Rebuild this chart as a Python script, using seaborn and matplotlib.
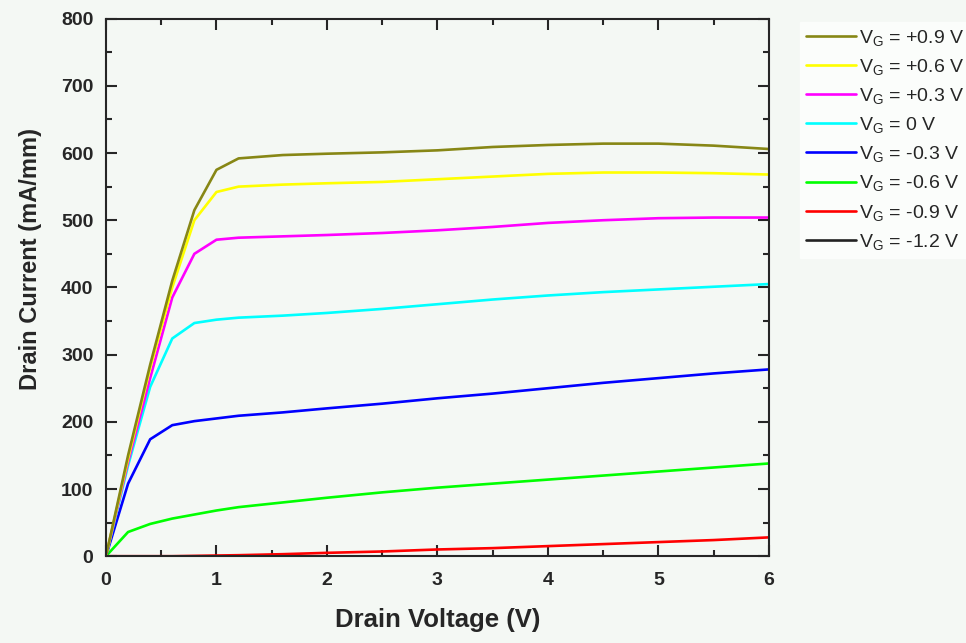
"""Drain current vs drain voltage for several gate voltages"""

import pandas as pd
import matplotlib.pyplot as plt
import seaborn as sns
from matplotlib.ticker import MultipleLocator

# Data ################################################
VD = [0, 0.2, 0.4, 0.6, 0.8, 1.0, 1.2, 1.6, 2.0, 2.5, 3.0, 3.5, 4.0, 4.5, 5.0, 5.5, 6.0]
ID_P09 = [0, 150, 285, 410, 515, 575, 592, 597, 599, 601, 604, 609, 612, 614, 614, 611, 606]
ID_P06 = [0, 145, 280, 400, 500, 542, 550, 553, 555, 557, 561, 565, 569, 571, 571, 570, 568]
ID_P03 = [0, 140, 265, 385, 450, 471, 474, 476, 478, 481, 485, 490, 496, 500, 503, 504, 504]
ID_0 = [0, 135, 252, 324, 347, 352, 355, 358, 362, 368, 375, 382, 388, 393, 397, 401, 405]
ID_M03 = [0, 108, 174, 195, 201, 205, 209, 214, 220, 227, 235, 242, 250, 258, 265, 272, 278]
ID_M06 = [0, 36, 48, 56, 62, 68, 73, 80, 87, 95, 102, 108, 114, 120, 126, 132, 138]
ID_M09 = [0, 0, 0, 0, 0.5, 1, 1.5, 3, 5, 7, 10, 12, 15, 18, 21, 24, 28]
ID_M12 = [0] * len(VD)

LABELS = ['+0.9 V', '+0.6 V', '+0.3 V', '0 V', '-0.3 V', '-0.6 V', '-0.9 V', '-1.2 V']
SERIES = [ID_P09, ID_P06, ID_P03, ID_0, ID_M03, ID_M06, ID_M09, ID_M12]
COLORS = ['#878715', '#ffff00', '#ff00ff', '#00ffff', '#0000ff', '#00ff00', '#ff0000', '#222222']

BG = '#f4f8f4'
LW = 1.9

rows = []
for lab, ys in zip(LABELS, SERIES):
    for x, y in zip(VD, ys):
        rows.append({'vd': x, 'id': y, 'vg': lab})
df = pd.DataFrame(rows)

sns.set_style('ticks')
plt.rcParams['font.family'] = ['Liberation Sans', 'DejaVu Sans']
plt.rcParams['mathtext.fontset'] = 'custom'
plt.rcParams['mathtext.rm'] = 'Liberation Sans'
plt.rcParams['mathtext.it'] = 'Liberation Sans'

fig = plt.figure(figsize=(9.66, 6.43), dpi=100, facecolor=BG)
ax = fig.add_axes([0.1097, 0.135, 0.6863, 0.836])
ax.set_facecolor(BG)

# draw bottom-up so red sits over black
order = LABELS[::-1]
palette = dict(zip(LABELS, COLORS))
sns.lineplot(data=df, x='vd', y='id', hue='vg', hue_order=order, palette=palette,
             ax=ax, linewidth=LW, legend=False, sort=False)

ax.set_xlim(0, 6)
ax.set_ylim(0, 800)
ax.xaxis.set_major_locator(MultipleLocator(1))
ax.xaxis.set_minor_locator(MultipleLocator(0.5))
ax.yaxis.set_major_locator(MultipleLocator(100))
ax.yaxis.set_minor_locator(MultipleLocator(50))
ax.tick_params(which='both', direction='in', top=True, right=True, width=1.5)
ax.tick_params(which='major', length=8, labelsize=14)
ax.tick_params(axis='x', which='major', pad=11.5)
ax.tick_params(axis='y', which='major', pad=9)
ax.tick_params(which='minor', length=4)
for lbl in ax.get_xticklabels() + ax.get_yticklabels():
    lbl.set_fontweight('bold')
for sp in ax.spines.values():
    sp.set_linewidth(1.5)

ax.set_xlabel('Drain Voltage (V)', fontsize=18.5, fontweight='bold')
ax.set_ylabel('Drain Current (mA/mm)', fontsize=17, fontweight='bold')
ax.xaxis.set_label_coords(0.5, -0.097)
ax.yaxis.set_label_coords(-0.0967, 0.553)

# Legend ################################################
handles = [plt.Line2D([], [], color=c, linewidth=LW) for c in COLORS]
texts = ['V$_{G}$ = ' + lab for lab in LABELS]
leg = fig.legend(handles, texts, loc='upper left', bbox_to_anchor=(0.828, 0.966),
                 frameon=True, fontsize=14, handlelength=2.6, handletextpad=0.15,
                 labelspacing=0.47, borderaxespad=0, borderpad=0.3)
leg.get_frame().set_facecolor('#fbfdfb')
leg.get_frame().set_edgecolor('#fbfdfb')
leg.get_frame().set_alpha(1)
leg.get_frame().set_boxstyle('square', pad=0)

plt.savefig('out.png', dpi=100, facecolor=BG)
plt.close()
